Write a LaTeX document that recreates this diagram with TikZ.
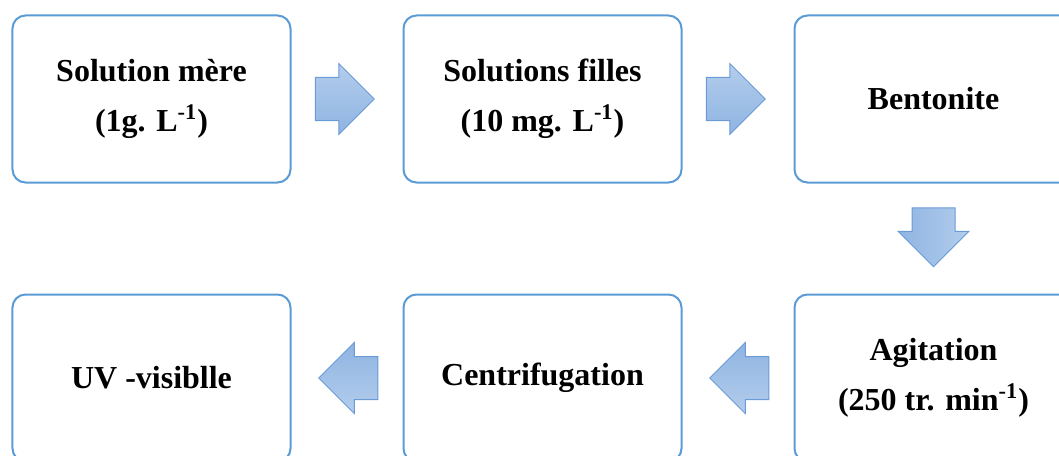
\documentclass[tikz,border=0pt]{standalone}
\usepackage{fontspec}
\setmainfont{Liberation Serif}
\usetikzlibrary{positioning,shapes.arrows}

\definecolor{boxline}{HTML}{5B9BD5}
\definecolor{arrline}{HTML}{6A9BD6}
\definecolor{arrdark}{HTML}{8FB4E2}
\definecolor{arrlight}{HTML}{B3CDEC}

\begin{document}
\begin{tikzpicture}[
box/.style={draw=boxline, line width=1pt, rounded corners=6.5pt, align=center, minimum width=139pt, minimum height=83.5pt, font=\fontsize{16}{25}\selectfont\bfseries},
blockarr/.style={single arrow, draw=arrline, line width=0.5pt, minimum height=29.5pt, single arrow head extend=7pt, single arrow head indent=0pt},
harr/.style={blockarr, inner xsep=0pt, inner ysep=10.5pt},
varr/.style={blockarr, inner xsep=10.5pt, inner ysep=0pt}
]
\path[use as bounding box, clip] (-75.75pt,-178pt) rectangle (453.75pt,49.5pt);

\node[box] (mere) {Solution mère\\(1g. L\textsuperscript{-1})};
\node[box, right=55.5pt of mere] (filles) {Solutions filles\\(10 mg. L\textsuperscript{-1})};
\node[box, right=55.5pt of filles] (bento) {Bentonite};
\node[box, below=55pt of bento] (agit) {Agitation\\(250 tr. min\textsuperscript{-1})};
\node[box, left=55.5pt of agit] (centri) {Centrifugation};
\node[box, left=55.5pt of centri] (uv) {UV -visiblle};

\path (mere) -- (filles) node[midway, harr, xshift=-6.5pt, top color=arrlight, bottom color=arrdark] (a1) {};
\path (filles) -- (bento) node[midway, harr, xshift=-6.5pt, top color=arrlight, bottom color=arrdark] (a2) {};
\path (bento) -- (agit) node[midway, varr, yshift=6pt, shape border rotate=270, left color=arrdark, right color=arrlight] (a3) {};
\path (agit) -- (centri) node[midway, harr, xshift=6pt, shape border rotate=180, top color=arrdark, bottom color=arrlight] (a4) {};
\path (centri) -- (uv) node[midway, harr, xshift=6pt, shape border rotate=180, top color=arrdark, bottom color=arrlight] (a5) {};
\end{tikzpicture}
\end{document}
